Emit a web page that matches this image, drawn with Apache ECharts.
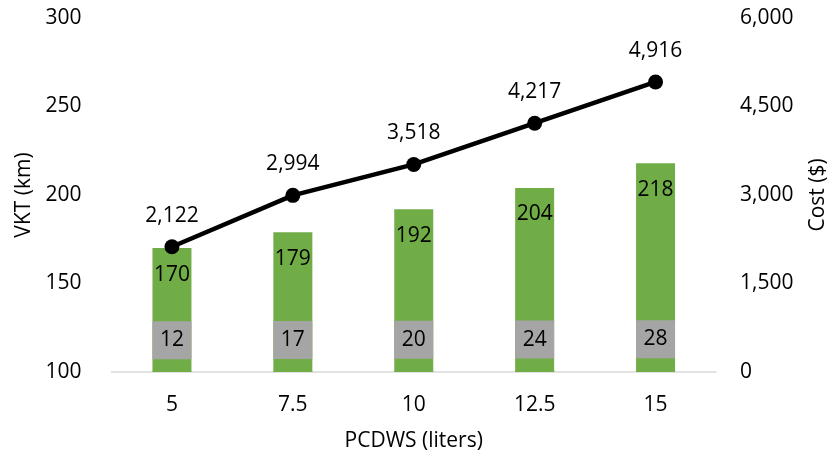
<!DOCTYPE html>
<html>
<head>
<meta charset="utf-8">
<script src="https://cdn.jsdelivr.net/npm/echarts@6/dist/echarts.min.js"></script>
<style>
  html, body { margin: 0; padding: 0; background: #ffffff; }
  #chart { width: 837px; height: 457px; }
</style>
</head>
<body>
<div id="chart"></div>
<script>
// PCDWS volumes (liters)
const categories = ['5', '7.5', '10', '12.5', '15'];
// Vehicle kilometres travelled (left axis)
const vktValues = [170, 179, 192, 204, 218];
// Small per-scenario values shown in grey boxes (right axis)
const smallValues = [12, 17, 20, 24, 28];
// Total cost in dollars (right axis)
const costValues = [2122, 2994, 3518, 4217, 4916];

const FONT = '"Open Sans", "Liberation Sans", sans-serif';
const FS = 21;
const fmtThousands = v => Number(v).toLocaleString('en-US');

const chart = echarts.init(document.getElementById('chart'), null, { renderer: 'canvas' });

chart.setOption({
  animation: false,
  backgroundColor: '#ffffff',
  textStyle: { fontFamily: FONT, color: '#000000' },
  grid: { left: 111.5, right: 115.5, top: 18, bottom: 85, containLabel: false },
  xAxis: {
    type: 'category',
    data: categories,
    name: 'PCDWS (liters)',
    nameLocation: 'middle',
    nameGap: 59,
    nameTextStyle: { fontFamily: FONT, fontSize: FS, color: '#000' },
    axisLine: { show: true, lineStyle: { color: '#d9d9d9', width: 1.5 } },
    axisTick: { show: false },
    axisLabel: { fontFamily: FONT, fontSize: FS, color: '#000', margin: 23 },
    splitLine: { show: false }
  },
  yAxis: [
    {
      type: 'value',
      min: 100, max: 300, interval: 50,
      name: 'VKT (km)',
      nameLocation: 'middle',
      nameRotate: 90,
      nameGap: 77,
      nameTextStyle: { fontFamily: FONT, fontSize: FS, color: '#000' },
      axisLine: { show: false },
      axisTick: { show: false },
      splitLine: { show: false },
      axisLabel: { fontFamily: FONT, fontSize: FS, color: '#000', margin: 30 }
    },
    {
      type: 'value',
      min: 0, max: 6000, interval: 1500,
      name: 'Cost ($)',
      nameLocation: 'middle',
      nameRotate: 90,
      nameGap: 92,
      nameTextStyle: { fontFamily: FONT, fontSize: FS, color: '#000' },
      axisLine: { show: false },
      axisTick: { show: false },
      splitLine: { show: false },
      axisLabel: { fontFamily: FONT, fontSize: FS, color: '#000', margin: 24, formatter: fmtThousands }
    }
  ],
  series: [
    {
      name: 'VKT',
      type: 'bar',
      yAxisIndex: 0,
      data: vktValues,
      barWidth: 39,
      barGap: '-100%',
      itemStyle: { color: '#70ad47' },
      label: {
        show: true,
        position: 'insideTop',
        distance: 16,
        fontFamily: FONT, fontSize: FS, color: '#000'
      },
      z: 2
    },
    {
      name: 'Small',
      type: 'bar',
      yAxisIndex: 1,
      data: smallValues,
      barWidth: 39,
      barGap: '-100%',
      itemStyle: { color: '#70ad47' },
      label: {
        show: true,
        position: 'top',
        distance: 12,
        fontFamily: FONT, fontSize: FS, color: '#000',
        backgroundColor: '#a5a5a5',
        width: 39,
        height: 38,
        lineHeight: 38,
        align: 'center',
        padding: 0
      },
      z: 3
    },
    {
      name: 'Cost',
      type: 'line',
      yAxisIndex: 1,
      data: costValues,
      symbol: 'circle',
      symbolSize: 15,
      lineStyle: { color: '#000', width: 4.5 },
      itemStyle: { color: '#000' },
      label: {
        show: true,
        position: 'top',
        distance: 13,
        fontFamily: FONT, fontSize: FS, color: '#000',
        formatter: p => fmtThousands(p.value)
      },
      z: 5
    }
  ]
});
</script>
</body>
</html>
